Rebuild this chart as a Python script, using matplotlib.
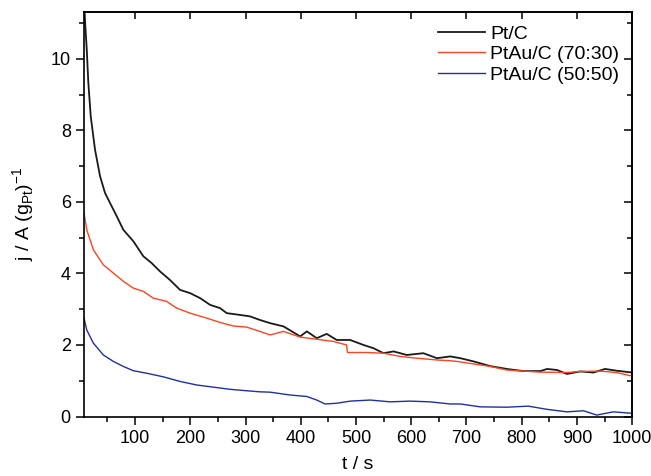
import matplotlib
matplotlib.use("Agg")
import matplotlib.pyplot as plt
from matplotlib.ticker import MultipleLocator

plt.rcParams['font.family'] = ['Liberation Sans', 'DejaVu Sans']

# Pt/C
t_ptc = [6, 9.4, 12.5, 15.4, 19.7, 27.5, 36.6, 45.6, 54.7, 66.8, 78.8, 96.9, 115, 130, 145,
         163, 181.5, 199.6, 217.8, 236, 254, 266, 290, 308, 326, 344.6, 368.7, 399, 411,
         429, 447, 465, 489.5, 513.6, 531.7, 549.8, 568, 592, 622, 646.6, 670.7, 689, 713,
         743, 773, 803, 834, 846, 864, 882, 906, 930, 951, 972, 1000]
j_ptc = [12.2, 11.06, 10.27, 9.33, 8.40, 7.46, 6.72, 6.25, 5.97, 5.60, 5.22, 4.90, 4.48, 4.29, 4.06,
         3.82, 3.54, 3.45, 3.31, 3.12, 3.03, 2.89, 2.84, 2.80, 2.70, 2.61, 2.52, 2.24, 2.38,
         2.19, 2.31, 2.14, 2.14, 2.00, 1.91, 1.77, 1.82, 1.72, 1.77, 1.63, 1.68, 1.63, 1.54,
         1.41, 1.33, 1.27, 1.27, 1.33, 1.30, 1.19, 1.26, 1.23, 1.33, 1.28, 1.23]

# PtAu/C (70:30)
t_7030 = [7.6, 12.5, 24.5, 42.6, 60.7, 78.8, 96.9, 115, 133, 157, 175.5, 199.6, 230, 254, 278,
          302, 326, 344.6, 368.7, 399, 429, 459, 483, 484.6, 520, 549.8, 580, 610, 646.6,
          670.7, 683, 713, 743, 773, 803, 834, 882, 906, 942, 972, 1000]
j_7030 = [5.69, 5.22, 4.66, 4.24, 4.01, 3.78, 3.59, 3.50, 3.31, 3.22, 3.03, 2.89, 2.75, 2.63, 2.53,
          2.50, 2.38, 2.28, 2.38, 2.22, 2.16, 2.10, 2.00, 1.79, 1.79, 1.77, 1.68, 1.63, 1.58,
          1.56, 1.54, 1.47, 1.40, 1.30, 1.27, 1.24, 1.23, 1.26, 1.27, 1.23, 1.13]

# PtAu/C (50:50)
t_5050 = [7.6, 12.5, 24.5, 42.6, 60.7, 78.8, 96.9, 121, 151, 181.5, 212, 242, 272, 302, 326,
          344.6, 381, 411, 429, 444, 465, 489.5, 525.7, 562, 598, 634, 670.7, 689, 725, 773,
          812, 846, 882, 912, 936, 966, 1000]
j_5050 = [2.75, 2.42, 2.05, 1.72, 1.54, 1.40, 1.28, 1.21, 1.11, 0.98, 0.88, 0.82, 0.76, 0.72, 0.69,
          0.68, 0.60, 0.56, 0.46, 0.35, 0.37, 0.43, 0.46, 0.41, 0.43, 0.41, 0.35, 0.35, 0.27, 0.26,
          0.29, 0.20, 0.13, 0.16, 0.04, 0.13, 0.09]

labels = ['Pt/C', 'PtAu/C (70:30)', 'PtAu/C (50:50)']
colors = ['#1a1a1a', '#ff4420', '#2030a0']

fig = plt.figure(figsize=(6.51, 4.76), dpi=100)
ax = fig.add_axes([0.129, 0.125, 0.842, 0.849])

ax.plot(t_ptc, j_ptc, color=colors[0], lw=1.3, label=labels[0])
ax.plot(t_7030, j_7030, color=colors[1], lw=1.0, label=labels[1])
ax.plot(t_5050, j_5050, color=colors[2], lw=1.0, label=labels[2])

ax.set_xlim(7.5, 1000)
ax.set_ylim(0, 11.3)
ax.xaxis.set_major_locator(MultipleLocator(100))
ax.xaxis.set_minor_locator(MultipleLocator(50))
ax.yaxis.set_major_locator(MultipleLocator(2))
ax.yaxis.set_minor_locator(MultipleLocator(1))

ax.tick_params(axis='both', which='major', direction='out', length=6, width=1.1,
               labelsize=13, top=False, right=False)
ax.tick_params(axis='both', which='minor', direction='out', length=3.5, width=1.1,
               top=False, right=False)
# mirrored inward ticks
secx = ax.secondary_xaxis('top')
secx.xaxis.set_major_locator(MultipleLocator(100))
secx.tick_params(direction='in', length=5, width=1.1, labeltop=False)
secy = ax.secondary_yaxis('right')
secy.yaxis.set_major_locator(MultipleLocator(2))
secy.yaxis.set_minor_locator(MultipleLocator(1))
secy.tick_params(which='major', direction='in', length=6, width=1.1, labelright=False)
secy.tick_params(which='minor', direction='in', length=3.5, width=1.1)

for s in ax.spines.values():
    s.set_linewidth(1.2)
secx.spines['top'].set_linewidth(1.2)
secy.spines['right'].set_linewidth(1.2)

ax.set_xlabel('t / s', fontsize=14, labelpad=7)
ax.set_ylabel(r'j / A (g$_{\mathregular{Pt}}$)$^{\mathregular{-1}}$', fontsize=14, labelpad=10)

ax.legend(loc='upper right', frameon=False, fontsize=14, handlelength=2.4,
          handletextpad=0.3, labelspacing=0.15, borderaxespad=0.25)

fig.savefig('out.png', dpi=100)
